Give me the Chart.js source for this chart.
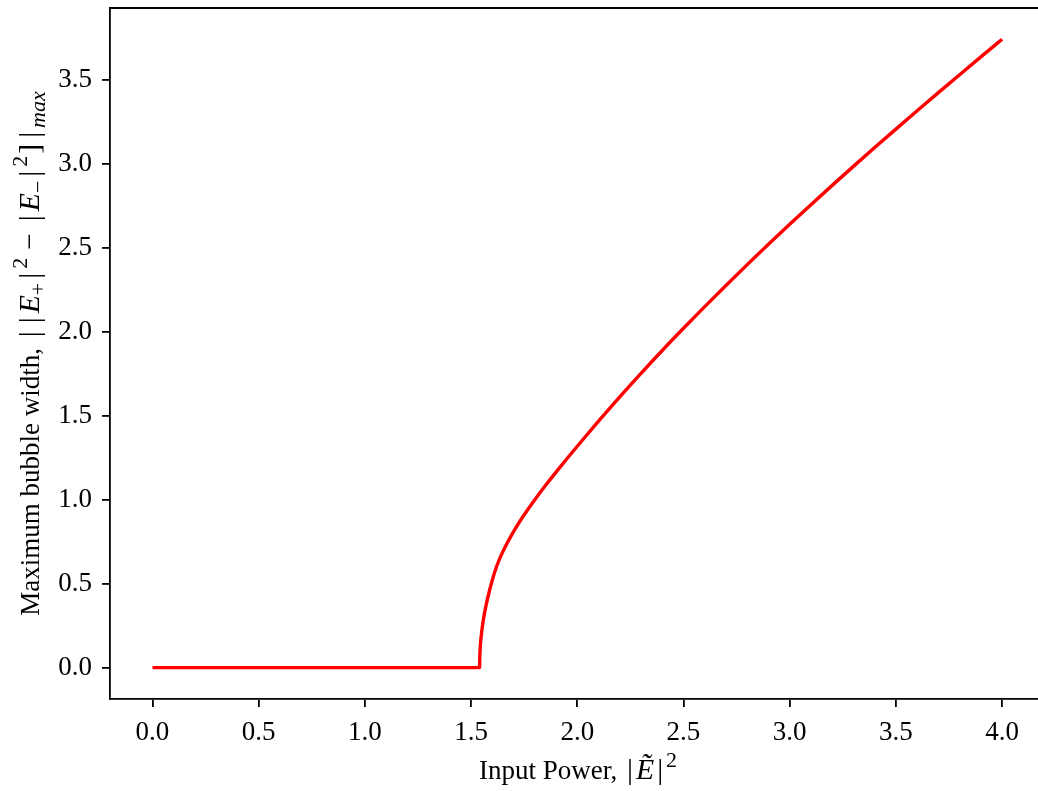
<!DOCTYPE html>
<html>
<head>
<meta charset="utf-8">
<script src="https://cdn.jsdelivr.net/npm/chart.js@4"></script>
<style>
  html, body { margin: 0; padding: 0; background: #fff; overflow: hidden; }
  canvas { display: block; }
</style>
</head>
<body>
<canvas id="bubbleChart" width="1038" height="791"></canvas>
<script>
// values
var inputPower = [0, 1.54, 1.541, 1.543, 1.546, 1.55, 1.558, 1.57, 1.585, 1.6, 1.62, 1.65, 1.7, 1.75,
  1.8, 1.85, 1.9, 1.95, 2.0, 2.1, 2.2, 2.3, 2.4, 2.5, 2.6, 2.7, 2.8, 2.9, 3.0, 3.1, 3.2, 3.3, 3.4, 3.5, 3.6, 3.7, 3.8, 3.9, 4.0];
var bubbleWidth = [0, 0, 0.068, 0.118, 0.166, 0.214, 0.286, 0.367, 0.45, 0.522, 0.602, 0.692, 0.810, 0.910,
  1.0, 1.084, 1.164, 1.242, 1.318, 1.467, 1.612, 1.752, 1.888, 2.020, 2.149, 2.275, 2.399, 2.520, 2.639, 2.756, 2.871, 2.984, 3.096, 3.206, 3.315, 3.423, 3.530, 3.636, 3.741];
var xTicks = [0, 0.5, 1.0, 1.5, 2.0, 2.5, 3.0, 3.5, 4.0];
var yTicks = [0, 0.5, 1.0, 1.5, 2.0, 2.5, 3.0, 3.5];

var serif = "'Liberation Serif', 'Times New Roman', serif";
var fontPx = 27;

var points = inputPower.map(function(x, i) { return { x: x, y: bubbleWidth[i] }; });

// draws a label made of runs (plain / math / italic / sub / sup)
function drawRuns(ctx, runs, cx, cy, angle) {
  function fontFor(r) {
    var base = r.math ? fontPx * 1.1 : fontPx;
    var size = (r.sub || r.sup) ? base * 0.74 : base;
    return (r.italic ? 'italic ' : '') + size + 'px ' + serif;
  }
  var total = 0;
  runs.forEach(function(r) {
    ctx.font = fontFor(r);
    r.pad = r.pad || 0;
    r.w = ctx.measureText(r.t).width + 2 * r.pad;
    total += r.w;
  });
  ctx.save();
  ctx.translate(cx, cy);
  ctx.rotate(angle);
  ctx.fillStyle = '#000';
  ctx.textBaseline = 'alphabetic';
  ctx.textAlign = 'left';
  var x = -total / 2;
  runs.forEach(function(r) {
    ctx.font = fontFor(r);
    var dy = r.sup ? -fontPx * 0.45 : (r.sub ? fontPx * 0.24 : 0);
    ctx.fillText(r.t, x + r.pad, fontPx * 0.33 + dy);
    x += r.w;
  });
  ctx.restore();
}

var framePlugin = {
  id: 'frame',
  afterDraw: function(chart) {
    var ctx = chart.ctx, a = chart.chartArea;
    ctx.save();
    ctx.strokeStyle = '#000';
    ctx.lineWidth = 1.8;
    ctx.beginPath();
    ctx.moveTo(a.left, a.top);
    ctx.lineTo(chart.width, a.top);
    ctx.stroke();
    ctx.restore();

    // matplotlib centres the title on the full axes (which runs past the right edge)
    drawRuns(ctx, [
      { t: 'Input Power, ' }, { t: '|', math: true, pad: 3 }, { t: '\u1EBC', italic: true, math: true },
      { t: '|', math: true, pad: 3 }, { t: '2', sup: true, math: true }
    ], 578, 770, 0);

    drawRuns(ctx, [
      { t: 'Maximum bubble width, ' },
      { t: '|', math: true, pad: 4 }, { t: '|', math: true, pad: 4 }, { t: 'E', italic: true, math: true },
      { t: '+', sub: true, math: true }, { t: '|', math: true, pad: 4 }, { t: '2', sup: true, math: true },
      { t: '\u2212', math: true, pad: 8 }, { t: '|', math: true, pad: 4 }, { t: 'E', italic: true, math: true },
      { t: '\u2212', sub: true, math: true }, { t: '|', math: true, pad: 4 }, { t: '2', sup: true, math: true },
      { t: ']', math: true, pad: 2 }, { t: '|', math: true, pad: 4 }, { t: 'max', italic: true, sub: true, math: true }
    ], 30, (a.top + a.bottom) / 2, -Math.PI / 2);
  }
};

new Chart(document.getElementById('bubbleChart'), {
  type: 'line',
  data: {
    datasets: [{
      data: points,
      borderColor: '#ff0000',
      borderWidth: 3.4,
      pointRadius: 0,
      cubicInterpolationMode: 'monotone',
      fill: false
    }]
  },
  options: {
    responsive: false,
    animation: false,
    layout: { padding: { top: 8, right: 0, left: 0, bottom: 0 } },
    plugins: { legend: { display: false }, tooltip: { enabled: false } },
    scales: {
      x: {
        type: 'linear',
        min: -0.2,
        max: 4.169,
        afterBuildTicks: function(axis) { axis.ticks = xTicks.map(function(v) { return { value: v }; }); },
        afterFit: function(axis) { axis.height = 92; axis.paddingLeft = 0; axis.paddingRight = 0; },
        ticks: {
          color: '#000',
          font: { family: serif, size: fontPx },
          padding: 10,
          maxRotation: 0,
          callback: function(v) { return v.toFixed(1); }
        },
        grid: { drawOnChartArea: false, drawTicks: true, tickLength: 8, color: '#000', lineWidth: 1.8 },
        border: { display: true, color: '#000', width: 1.8 }
      },
      y: {
        type: 'linear',
        min: -0.187,
        max: 3.927,
        afterBuildTicks: function(axis) { axis.ticks = yTicks.map(function(v) { return { value: v }; }); },
        afterFit: function(axis) { axis.width = 110; axis.paddingTop = 0; axis.paddingBottom = 0; },
        ticks: {
          color: '#000',
          font: { family: serif, size: fontPx },
          padding: 10,
          callback: function(v) { return v.toFixed(1); }
        },
        grid: { drawOnChartArea: false, drawTicks: true, tickLength: 8, color: '#000', lineWidth: 1.8 },
        border: { display: true, color: '#000', width: 1.8 }
      }
    }
  },
  plugins: [framePlugin]
});
</script>
</body>
</html>
